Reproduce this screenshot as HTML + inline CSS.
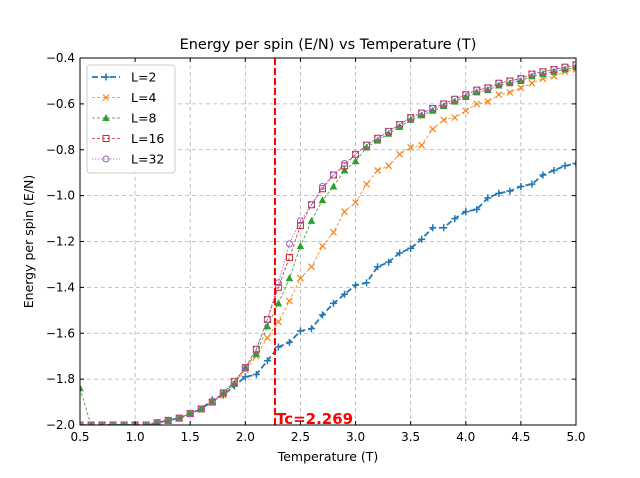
<!DOCTYPE html>
<html><head><meta charset="utf-8"><style>
html,body{margin:0;padding:0;background:#fff;width:640px;height:478px;overflow:hidden}
text{font-family:"DejaVu Sans","Liberation Sans",sans-serif}
</style></head><body>
<svg id="chart" width="640" height="478" xmlns="http://www.w3.org/2000/svg"></svg>
<script>
const temps=[];for(let i=0;i<=45;i++)temps.push(+(0.5+i*0.1).toFixed(1));
const eL2=[-2,-2,-2,-2,-2,-2,-2,-1.99,-1.98,-1.97,-1.95,-1.93,-1.89,-1.87,-1.83,-1.79,-1.78,-1.72,-1.66,-1.64,-1.59,-1.58,-1.52,-1.47,-1.43,-1.39,-1.38,-1.31,-1.29,-1.25,-1.23,-1.19,-1.14,-1.14,-1.10,-1.07,-1.06,-1.01,-0.99,-0.98,-0.96,-0.95,-0.91,-0.89,-0.87,-0.86];
const eL4=[-2,-2,-2,-2,-2,-2,-2,-1.99,-1.98,-1.97,-1.95,-1.93,-1.90,-1.87,-1.82,-1.76,-1.70,-1.62,-1.55,-1.46,-1.36,-1.31,-1.22,-1.16,-1.07,-1.03,-0.95,-0.89,-0.87,-0.82,-0.79,-0.78,-0.71,-0.67,-0.66,-0.63,-0.60,-0.59,-0.56,-0.55,-0.53,-0.51,-0.49,-0.48,-0.46,-0.45];
const eL8=[-1.84,-2,-2,-2,-2,-2,-2,-1.99,-1.98,-1.97,-1.95,-1.93,-1.90,-1.86,-1.82,-1.75,-1.69,-1.57,-1.47,-1.36,-1.22,-1.11,-1.02,-0.96,-0.89,-0.85,-0.79,-0.76,-0.73,-0.70,-0.67,-0.65,-0.63,-0.61,-0.59,-0.57,-0.55,-0.54,-0.52,-0.51,-0.50,-0.48,-0.47,-0.46,-0.45,-0.44];
const eL16=[-2,-2,-2,-2,-2,-2,-2,-1.99,-1.98,-1.97,-1.95,-1.93,-1.90,-1.86,-1.81,-1.75,-1.67,-1.54,-1.40,-1.27,-1.13,-1.04,-0.97,-0.91,-0.87,-0.82,-0.78,-0.75,-0.72,-0.69,-0.66,-0.64,-0.62,-0.60,-0.58,-0.56,-0.54,-0.53,-0.51,-0.50,-0.49,-0.47,-0.46,-0.45,-0.44,-0.43];
const eL32=[-2,-2,-2,-2,-2,-2,-2,-1.99,-1.98,-1.97,-1.95,-1.93,-1.90,-1.86,-1.81,-1.75,-1.67,-1.54,-1.38,-1.21,-1.11,-1.04,-0.96,-0.91,-0.86,-0.82,-0.78,-0.75,-0.72,-0.69,-0.66,-0.64,-0.62,-0.60,-0.58,-0.56,-0.54,-0.53,-0.51,-0.50,-0.49,-0.47,-0.46,-0.45,-0.44,-0.43];
const xTicks=[0.5,1.0,1.5,2.0,2.5,3.0,3.5,4.0,4.5,5.0];
const yTicks=[-2.0,-1.8,-1.6,-1.4,-1.2,-1.0,-0.8,-0.6,-0.4];
const tc=2.269;
const L=80,R=576,T=58,B=425;
const xs=v=>L+(v-0.5)/4.5*(R-L);
const ys=v=>B-(v+2.0)/1.6*(B-T);
const svg=document.getElementById('chart');const NS='http://www.w3.org/2000/svg';
function mk(tag,at,parent){const e=document.createElementNS(NS,tag);for(const k in at)e.setAttribute(k,at[k]);(parent||svg).appendChild(e);return e;}
const clip=mk('clipPath',{id:'pc'});mk('rect',{x:L,y:T,width:R-L,height:B-T},clip);
// grid
xTicks.forEach(t=>{const g=mk('line',{x1:xs(t),x2:xs(t),y1:T,y2:B,stroke:'#b0b0b0','stroke-dasharray':'4,3','stroke-width':0.8});

});
yTicks.forEach(t=>{const g=mk('line',{x1:L,x2:R,y1:ys(t),y2:ys(t),stroke:'#b0b0b0','stroke-dasharray':'4,3','stroke-width':0.8});

});
const series=[
 {name:'L=2',d:eL2,c:'#1f77b4',m:'plus',w:1.8,dash:'6,3'},
 {name:'L=4',d:eL4,c:'#ff7f0e',m:'x',w:0.8,dash:'3,2'},
 {name:'L=8',d:eL8,c:'#2ca02c',m:'tri',w:0.8,dash:'3,2'},
 {name:'L=16',d:eL16,c:'#d62728',m:'sq',w:0.8,dash:'3,2'},
 {name:'L=32',d:eL32,c:'#9467bd',m:'circ',w:0.8,dash:'1.5,1.5'}];
function marker(m,x,y,c,g){
 if(m==='plus'){mk('path',{d:`M${x-3.5} ${y}H${x+3.5}M${x} ${y-3.5}V${y+3.5}`,stroke:c,'stroke-width':1.5},g);}
 else if(m==='x'){mk('path',{d:`M${x-3} ${y-3}L${x+3} ${y+3}M${x-3} ${y+3}L${x+3} ${y-3}`,stroke:c,'stroke-width':1.2},g);}
 else if(m==='tri'){mk('path',{d:`M${x} ${y-4}L${x+3.8} ${y+3}L${x-3.8} ${y+3}Z`,fill:c},g);}
 else if(m==='sq'){mk('rect',{x:x-3,y:y-3,width:6,height:6,fill:'none',stroke:c,'stroke-width':1},g);}
 else {mk('circle',{cx:x,cy:y,r:3,fill:'none',stroke:c,'stroke-width':1},g);}
}
series.forEach(s=>{
 const g=mk('g',{'clip-path':'url(#pc)'});
 
 
 mk('path',{d:s.d.map((v,i)=>(i?'L':'M')+xs(temps[i])+' '+ys(v)).join(''),fill:'none',stroke:s.c,'stroke-width':s.w,'stroke-dasharray':s.dash},g);
 s.d.forEach((v,i)=>marker(s.m,xs(temps[i]),ys(v),s.c,g));
});
// Tc line
const tl=mk('line',{x1:xs(tc),x2:xs(tc),y1:T,y2:B,stroke:'#ff0000','stroke-width':2,'stroke-dasharray':'7,3'});


const tt=mk('text',{x:xs(tc)+1,y:B-1,fill:'#ff0000','font-size':15,'font-weight':'bold'});tt.textContent='Tc=2.269';


// frame
mk('rect',{x:L,y:T,width:R-L,height:B-T,fill:'none',stroke:'#000','stroke-width':1});
xTicks.forEach(t=>{mk('line',{x1:xs(t),x2:xs(t),y1:B,y2:B-4,stroke:'#000'});mk('line',{x1:xs(t),x2:xs(t),y1:T,y2:T+4,stroke:'#000'});
 const e=mk('text',{x:xs(t),y:B+16,'text-anchor':'middle','font-size':12});e.textContent=t.toFixed(1);
 
 });
yTicks.forEach(t=>{mk('line',{x1:L,x2:L+4,y1:ys(t),y2:ys(t),stroke:'#000'});mk('line',{x1:R,x2:R-4,y1:ys(t),y2:ys(t),stroke:'#000'});
 const e=mk('text',{x:L-5,y:ys(t)+4,'text-anchor':'end','font-size':12});e.textContent=(t<0?'\u2212':'')+Math.abs(t).toFixed(1);
 
 });
const ti=mk('text',{x:(L+R)/2,y:49,'text-anchor':'middle','font-size':14.5});ti.textContent='Energy per spin (E/N) vs Temperature (T)';


const xt=mk('text',{x:(L+R)/2,y:461,'text-anchor':'middle','font-size':12.5});xt.textContent='Temperature (T)';


const yt=mk('text',{x:33,y:(T+B)/2,'text-anchor':'middle','font-size':12.5,transform:`rotate(-90 33 ${(T+B)/2})`});yt.textContent='Energy per spin (E/N)';


// legend
const lg=mk('g',{});


mk('rect',{x:87,y:65,width:88,height:108,rx:3,fill:'#fff','fill-opacity':0.85,stroke:'#ccc'},lg);
series.forEach((s,i)=>{const y=77+i*20.5;
 const e=mk('g',{},lg);
 
 
 mk('line',{x1:92,x2:120,y1:y,y2:y,stroke:s.c,'stroke-width':s.w,'stroke-dasharray':s.dash},e);
 marker(s.m,106,y,s.c,e);
 const t=mk('text',{x:131,y:y+4.5,'font-size':12.5},e);t.textContent=s.name;});
</script>
</body></html>
